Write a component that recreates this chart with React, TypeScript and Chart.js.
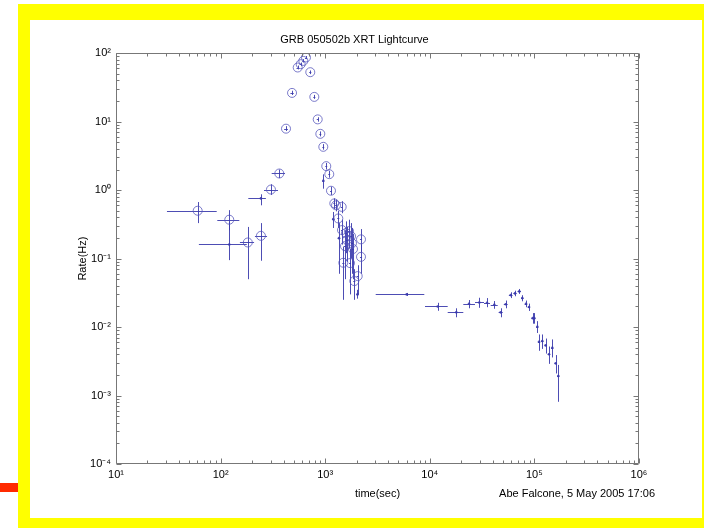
import React, { useEffect, useRef } from 'react';
import { Chart, registerables } from 'chart.js';

Chart.register(...registerables);

const chartTitle = 'GRB 050502b XRT Lightcurve';
const xAxisTitle = 'time(sec)';
const yAxisTitle = 'Rate(Hz)';
const creditText = 'Abe Falcone, 5 May 2005 17:06';

const xTickValues = [10, 100, 1000, 10000, 100000, 1000000];
const xTickLabels = ['10¹', '10²', '10³', '10⁴', '10⁵', '10⁶'];
const yTickValues = [0.0001, 0.001, 0.01, 0.1, 1, 10, 100];
const yTickLabels = ['10⁻⁴', '10⁻³', '10⁻²', '10⁻¹', '10⁰', '10¹', '10²'];

// [time, timeLow, timeHigh, rate, rateLow, rateHigh]
type Row = [number, number, number, number, number, number];

const circleRows: Row[] = [
  [60.4, 30.7, 91.8, 0.5, 0.33, 0.67],
  [121, 93, 151, 0.37, 0.26, 0.51],
  [182, 153, 209, 0.172, 0.05, 0.29],
  [243, 213, 278, 0.215, 0.093, 0.33],
  [303, 260, 354, 1.02, 0.85, 1.22],
  [364, 308, 413, 1.75, 1.5, 2.0],
  [422, 405, 440, 7.9, 7.3, 8.6],
  [482, 465, 500, 26.3, 24.5, 28.3],
  [546, 532, 560, 61.8, 58, 66],
  [583, 568, 598, 69.1, 65, 73],
  [618, 603, 633, 77.2, 73, 82],
  [655, 640, 671, 86.5, 82, 91],
  [720, 703, 737, 52.8, 49.5, 56],
  [787, 770, 805, 23.0, 21.5, 24.6],
  [848, 830, 866, 10.8, 10.0, 11.6],
  [898, 880, 917, 6.64, 6.1, 7.2],
  [959, 940, 979, 4.29, 3.9, 4.7],
  [1024, 1003, 1045, 2.24, 2.0, 2.5],
  [1094, 1072, 1116, 1.71, 1.52, 1.92],
  [1136, 1113, 1160, 0.98, 0.85, 1.12],
  [1222, 1198, 1247, 0.64, 0.53, 0.76],
  [1269, 1244, 1295, 0.6, 0.49, 0.72],
  [1438, 1410, 1467, 0.57, 0.46, 0.69],
  [1334, 1305, 1363, 0.386, 0.28, 0.5],
  [1447, 1415, 1480, 0.261, 0.16, 0.37],
  [1581, 1545, 1617, 0.236, 0.12, 0.35],
  [1689, 1652, 1727, 0.252, 0.14, 0.37],
  [1765, 1727, 1805, 0.213, 0.1, 0.33],
  [1616, 1580, 1652, 0.186, 0.09, 0.29],
  [1804, 1765, 1845, 0.168, 0.06, 0.28],
  [1546, 1512, 1580, 0.152, 0.05, 0.26],
  [1844, 1805, 1885, 0.138, 0.05, 0.23],
  [2199, 2150, 2250, 0.191, 0.12, 0.27],
  [2199, 2150, 2250, 0.106, 0.06, 0.16],
  [1490, 1457, 1524, 0.087, 0.025, 0.15],
  [1726, 1690, 1765, 0.086, 0.03, 0.14],
  [2045, 2000, 2090, 0.0555, 0.03, 0.08],
  [1898, 1855, 1940, 0.047, 0.025, 0.07],
];

const earlyDotRows: Row[] = [
  [121, 62, 178, 0.161, 0.095, 0.34],
  [243, 184, 271, 0.757, 0.6, 0.87],
  [959, 940, 980, 1.37, 1.05, 1.7],
  [1195, 1170, 1220, 0.377, 0.28, 0.48],
  [1355, 1320, 1390, 0.199, 0.06, 0.33],
  [2036, 1990, 2080, 0.03, 0.026, 0.035],
];

const lateDotRows: Row[] = [
  [6015, 3040, 8860, 0.03, 0.0285, 0.0315],
  [11900, 9000, 14830, 0.02, 0.0173, 0.0226],
  [17920, 14830, 20910, 0.0164, 0.0139, 0.0188],
  [23700, 20910, 27050, 0.0219, 0.0188, 0.0248],
  [29730, 27050, 32980, 0.0229, 0.0191, 0.0268],
  [35230, 32980, 37630, 0.0226, 0.0195, 0.0265],
  [41370, 38210, 44570, 0.0212, 0.0185, 0.024],
  [47610, 45500, 49800, 0.0164, 0.0139, 0.0188],
  [53170, 51000, 55500, 0.0215, 0.0188, 0.0244],
  [59360, 57000, 61800, 0.0293, 0.0265, 0.0322],
  [65250, 63000, 67600, 0.031, 0.0282, 0.034],
  [71730, 69000, 74500, 0.0332, 0.0305, 0.036],
  [76630, 74500, 78800, 0.0265, 0.0238, 0.0292],
  [83110, 80700, 85500, 0.0219, 0.0195, 0.0244],
  [88790, 86500, 91000, 0.0196, 0.0172, 0.022],
  [96300, 94000, 98600, 0.0135, 0.0112, 0.016],
  [99770, 97500, 102000, 0.0135, 0.0112, 0.016],
  [106600, 104000, 109000, 0.0101, 0.0082, 0.0122],
  [110700, 108000, 113500, 0.0061, 0.0045, 0.0078],
  [119000, 116000, 122000, 0.00625, 0.0048, 0.0078],
  [128200, 125000, 131500, 0.0054, 0.0041, 0.0068],
  [137900, 134500, 141500, 0.004, 0.0029, 0.0052],
  [148300, 144500, 152000, 0.005, 0.0036, 0.0066],
  [159800, 156000, 163500, 0.00295, 0.0021, 0.0039],
  [169300, 165500, 173000, 0.00193, 0.00081, 0.0028],
];

const FONT = "'Liberation Sans', Arial, Helvetica, sans-serif";
const MARK = 'rgba(58, 58, 172, 0.9)';
const CIRCLE = 'rgba(80, 80, 185, 0.75)';
const AXIS = '#777777';

const errorBarPlugin = {
  id: 'errorBars',
  beforeDatasetsDraw(chart: any) {
    const { ctx, chartArea, scales } = chart;
    const xs = scales.x;
    const ys = scales.y;
    ctx.save();
    ctx.beginPath();
    ctx.rect(chartArea.left, chartArea.top, chartArea.right - chartArea.left, chartArea.bottom - chartArea.top);
    ctx.clip();
    ctx.strokeStyle = MARK;
    ctx.lineWidth = 1;
    chart.data.datasets.forEach((ds: any) => {
      const rows: Row[] = ds.rows || [];
      rows.forEach((r) => {
        const px = xs.getPixelForValue(r[0]);
        const py = ys.getPixelForValue(r[3]);
        const xl = xs.getPixelForValue(r[1]);
        const xh = xs.getPixelForValue(r[2]);
        const yl = ys.getPixelForValue(r[4]);
        const yh = ys.getPixelForValue(r[5]);
        const cx = Math.round(px) + 0.5;
        const cy = Math.round(py) + 0.5;
        ctx.beginPath();
        ctx.moveTo(xl, cy);
        ctx.lineTo(xh, cy);
        ctx.moveTo(cx, yl);
        ctx.lineTo(cx, yh);
        ctx.stroke();
      });
    });
    ctx.restore();
  },
};

const boxPlugin = {
  id: 'matlabBox',
  afterDraw(chart: any) {
    const { ctx, chartArea, scales } = chart;
    const { left, right, top, bottom } = chartArea;
    const L = Math.round(left) + 0.5;
    const R = Math.round(right) - 0.5;
    const T = Math.round(top) + 0.5;
    const B = Math.round(bottom) - 0.5;
    ctx.save();
    ctx.strokeStyle = AXIS;
    ctx.lineWidth = 1;
    ctx.beginPath();
    ctx.rect(L, T, R - L, B - T);
    ctx.stroke();
    ctx.beginPath();
    for (let d = 1; d <= 6; d++) {
      for (let m = 1; m <= 9; m++) {
        if (d === 6 && m > 1) break;
        const v = m * Math.pow(10, d);
        const x = Math.round(scales.x.getPixelForValue(v)) + 0.5;
        const len = m === 1 ? 5 : 3;
        ctx.moveTo(x, B);
        ctx.lineTo(x, B - len);
        ctx.moveTo(x, T);
        ctx.lineTo(x, T + len);
      }
    }
    for (let d = -4; d <= 2; d++) {
      for (let m = 1; m <= 9; m++) {
        if (d === 2 && m > 1) break;
        const v = m * Math.pow(10, d);
        const y = Math.round(scales.y.getPixelForValue(v)) + 0.5;
        const len = m === 1 ? 5 : 3;
        ctx.moveTo(L, y);
        ctx.lineTo(L + len, y);
        ctx.moveTo(R, y);
        ctx.lineTo(R - len, y);
      }
    }
    ctx.stroke();
    ctx.fillStyle = '#000';
    ctx.font = `11px ${FONT}`;
    ctx.textAlign = 'right';
    ctx.textBaseline = 'middle';
    ctx.fillText(creditText, right + 16, bottom + 30);
    ctx.restore();
  },
};

export default function App() {
  const ref = useRef<HTMLCanvasElement | null>(null);

  useEffect(() => {
    if (!ref.current) return;
    const toPts = (rows: Row[]) => rows.map((r) => ({ x: r[0], y: r[3] }));
    const chart = new Chart(ref.current, {
      type: 'scatter',
      data: {
        datasets: [
          {
            data: toPts(circleRows),
            rows: circleRows,
            pointStyle: 'circle',
            pointRadius: 4.5,
            backgroundColor: 'rgba(0,0,0,0)',
            borderColor: CIRCLE,
            borderWidth: 1,
          } as any,
          {
            data: toPts(earlyDotRows),
            rows: earlyDotRows,
            pointStyle: 'circle',
            pointRadius: 1.3,
            backgroundColor: MARK,
            borderColor: MARK,
            borderWidth: 0,
          } as any,
          {
            data: toPts(lateDotRows),
            rows: lateDotRows,
            pointStyle: 'circle',
            pointRadius: 1.3,
            backgroundColor: MARK,
            borderColor: MARK,
            borderWidth: 0,
          } as any,
        ],
      },
      options: {
        animation: false,
        responsive: false,
        maintainAspectRatio: false,
        events: [],
        layout: { padding: { left: 40, right: 63, top: 0, bottom: 10 } },
        plugins: {
          legend: { display: false },
          tooltip: { enabled: false },
          title: {
            display: true,
            text: chartTitle,
            color: '#000',
            font: { family: FONT, size: 11, weight: 'normal' },
            padding: { top: 13, bottom: 7 },
          },
        },
        scales: {
          x: {
            type: 'logarithmic',
            min: 10,
            max: 1000000,
            afterBuildTicks: (s: any) => {
              s.ticks = xTickValues.map((v) => ({ value: v }));
            },
            afterFit: (s: any) => {
              s.height = 44;
            },
            ticks: {
              autoSkip: false,
              maxRotation: 0,
              padding: 4,
              color: '#000',
              font: { family: FONT, size: 11 },
              callback: (_v: any, i: number) => xTickLabels[i],
            },
            grid: { display: false, drawTicks: false },
            border: { display: false },
            title: {
              display: true,
              text: xAxisTitle,
              color: '#000',
              font: { family: FONT, size: 11 },
              padding: { top: 0, bottom: 7 },
            },
          },
          y: {
            type: 'logarithmic',
            min: 0.0001,
            max: 100,
            afterBuildTicks: (s: any) => {
              s.ticks = yTickValues.map((v) => ({ value: v }));
            },
            afterFit: (s: any) => {
              s.width = 46;
            },
            ticks: {
              autoSkip: false,
              padding: 5,
              color: '#000',
              font: { family: FONT, size: 11 },
              callback: (_v: any, i: number) => yTickLabels[i],
            },
            grid: { display: false, drawTicks: false },
            border: { display: false },
            title: {
              display: true,
              text: yAxisTitle,
              color: '#000',
              font: { family: FONT, size: 11 },
              padding: { top: 6, bottom: 0 },
            },
          },
        },
      } as any,
      plugins: [errorBarPlugin, boxPlugin],
    });
    return () => chart.destroy();
  }, []);

  return (
    <div style={{ position: 'fixed', left: 0, top: 0, width: 704, height: 528, background: '#fff', overflow: 'hidden' }}>
      <div style={{ position: 'absolute', left: 18, top: 4, width: 700, height: 530, background: '#ffff00' }} />
      <div style={{ position: 'absolute', left: 0, top: 483, width: 18, height: 9, background: '#ff2a00' }} />
      <div style={{ position: 'absolute', left: 30, top: 20, width: 672, height: 498, background: '#fff' }}>
        <canvas ref={ref} width={672} height={498} style={{ width: 672, height: 498, display: 'block' }} />
      </div>
    </div>
  );
}
